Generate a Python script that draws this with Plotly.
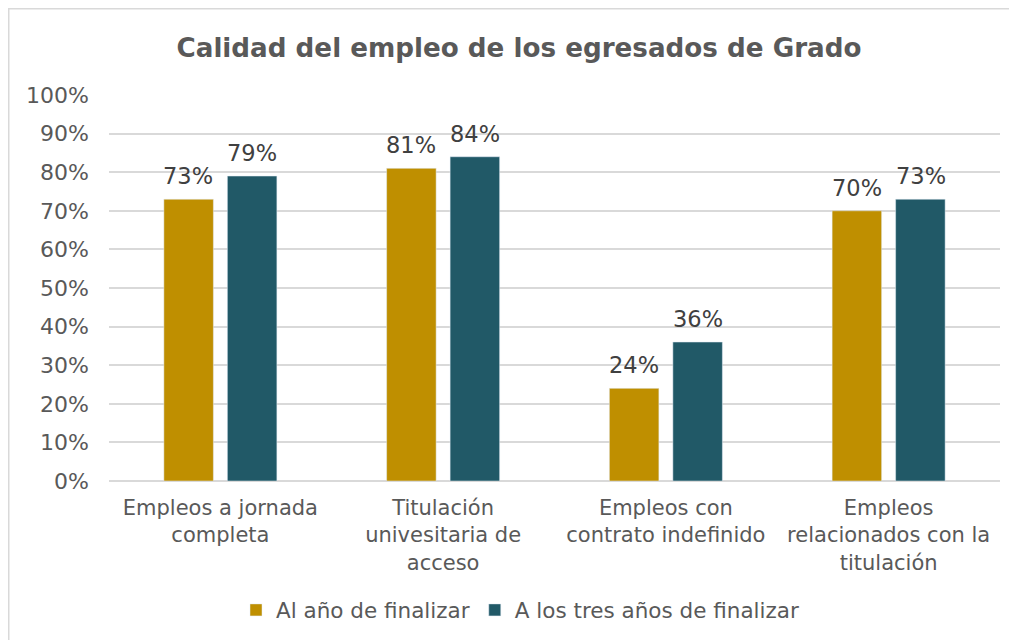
import plotly.graph_objects as go

categorias = ["Empleos a jornada<br>completa",
              "Titulación<br>univesitaria de<br>acceso",
              "Empleos con<br>contrato indefinido",
              "Empleos<br>relacionados con la<br>titulación"]
al_anio = [0.73, 0.81, 0.24, 0.70]
tres_anios = [0.79, 0.84, 0.36, 0.73]
ticks = [0, 0.1, 0.2, 0.3, 0.4, 0.5, 0.6, 0.7, 0.8, 0.9, 1.0]

fuente = "Verdana, DejaVu Sans, sans-serif"

fig = go.Figure()
fig.add_trace(go.Bar(x=categorias, y=al_anio, name="Al año de finalizar",
                     marker_color="#BF8F00"))
fig.add_trace(go.Bar(x=categorias, y=tres_anios, name="A los tres años de finalizar",
                     marker_color="#215967"))

# etiquetas de datos encima de cada barra
for serie, desp in [(al_anio, -32), (tres_anios, 32)]:
    for cat, v in zip(categorias, serie):
        fig.add_annotation(x=cat, y=v, text=f"{v:.0%}", showarrow=False,
                           xanchor="center", yanchor="bottom", xshift=desp, yshift=8,
                           font=dict(size=22.5, color="#404040"))

fig.update_layout(
    width=1017, height=640,
    margin=dict(l=101, r=25, t=87, b=167),
    paper_bgcolor="white", plot_bgcolor="white",
    font=dict(family=fuente, color="#595959", size=21),
    title=dict(text="<b>Calidad del empleo de los egresados de Grado</b>",
               x=(519 - 109) / 891, xref="paper", xanchor="center",
               y=1 - 40 / 640, yanchor="middle",
               font=dict(size=26.2, color="#595959")),
    barmode="group", bargap=0.43, bargroupgap=0.22,
    legend=dict(orientation="h", x=(520 - 109) / 891, xanchor="center",
                y=-0.334, yanchor="middle",
                font=dict(size=21.5, color="#595959"), traceorder="normal"),
)
fig.update_yaxes(range=[0, 1.0], tickvals=ticks, tickformat=".0%",
                 showgrid=True, gridcolor="#D9D9D9", gridwidth=2,
                 zeroline=True, zerolinecolor="#D9D9D9", zerolinewidth=2,
                 ticks="", ticklabelstandoff=19, tickfont=dict(size=22))
fig.update_xaxes(showline=False, ticks="", ticklabelstandoff=12,
                 tickfont=dict(size=21))

fig.add_shape(type="rect", xref="paper", yref="paper",
              x0=(0.5 - 101) / 891, x1=(1016 - 101) / 891,
              y0=(473 - 660) / 386, y1=(473 - 0.5) / 386,
              line=dict(color="#D9D9D9", width=2), layer="below")

fig.write_html("out.html")
